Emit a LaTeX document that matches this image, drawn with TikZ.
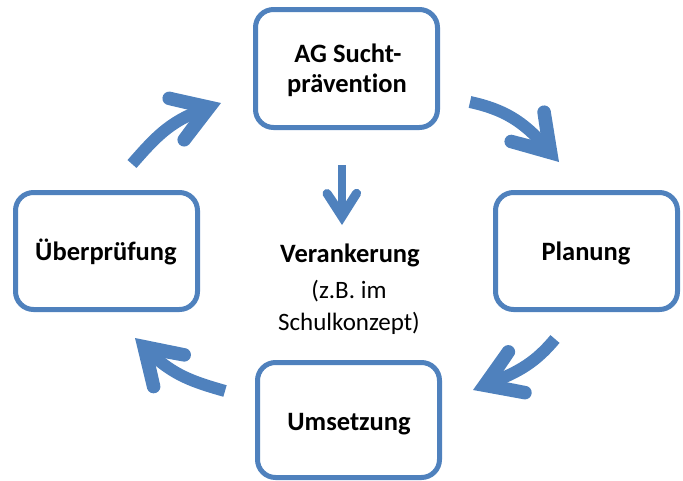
\documentclass[tikz,border=0pt]{standalone}
\usepackage{fontspec}
\setmainfont{Carlito}[Ligatures=NoCommon]
\definecolor{arrowblue}{HTML}{4F81BD}
\tikzset{
  x=1pt,y=1pt,
  cyclebox/.style={draw=arrowblue, line width=5pt, rounded corners=18pt, fill=white,
    minimum width=182pt, minimum height=117pt, inner sep=0pt},
  boldlabel/.style={anchor=base, inner sep=0pt, font=\fontsize{26.5}{31}\selectfont\bfseries},
  plainlabel/.style={anchor=base, inner sep=0pt, font=\fontsize{25}{30}\selectfont},
  shaft/.style={draw=arrowblue, line width=12pt, line cap=butt},
  ahead/.pic={
    \fill[arrowblue] (0,0) -- (-44.35,27.89) arc[start angle=65,end angle=245,radius=6.8]
      -- (-26,0) -- (-49.85,-16.11) arc[start angle=115,end angle=295,radius=6.8] -- cycle;
  }
}
\begin{document}
\begin{tikzpicture}
\useasboundingbox (0,-480) rectangle (683,0);
% boxes
\node[cyclebox, minimum height=118pt] (topbox) at (346.5,-68.5) {};
\node[cyclebox] (leftbox) at (106.5,-251) {};
\node[cyclebox] (rightbox) at (586.5,-251) {};
\node[cyclebox, minimum height=115pt] (bottombox) at (348.5,-420) {};
% labels
\node[boldlabel] (top1) at (348,-62) {AG Sucht-};
\node[boldlabel] (top2) at (347,-92) {prävention};
\node[boldlabel] (leftlabel) at (106,-260) {Überprüfung};
\node[boldlabel] (rightlabel) at (586,-260) {Planung};
\node[boldlabel] (bottomlabel) at (349,-430) {Umsetzung};
\node[boldlabel] (mid1) at (350,-262) {Verankerung};
\node[plainlabel] (mid2) at (349,-298) {(z.B. im};
\node[plainlabel] (mid3) at (349,-330) {Schulkonzept)};
% arrow coordinates
\coordinate (tls) at (132,-164);
\coordinate (tle) at (202,-110);
\coordinate (tlt) at (221,-103);
\coordinate (trs) at (470,-102);
\coordinate (tre) at (545.8,-147);
\coordinate (trt) at (559,-162);
\coordinate (brs) at (555,-339);
\coordinate (bre) at (491.6,-382.6);
\coordinate (brt) at (473,-390);
\coordinate (bls) at (225,-391);
\coordinate (ble) at (149.3,-352);
\coordinate (blt) at (135,-338);
\coordinate (ms) at (342,-165);
\coordinate (me) at (342,-212);
\coordinate (mt) at (342,-225);
% curved arrows
\draw[shaft] (tls) to[out=48.7,in=199.6] (tle);
\pic[rotate=19.6] at (tlt) {ahead};
\draw[shaft] (trs) to[out=-12.3,in=131.4] (tre);
\pic[rotate=-48.6] at (trt) {ahead};
\draw[shaft] (brs) to[out=230.2,in=21.8] (bre);
\pic[rotate=201.8] at (brt) {ahead};
\draw[shaft] (bls) to[out=164,in=315.7] (ble);
\pic[rotate=135.7] at (blt) {ahead};
% centre arrow
\draw[shaft, line width=8pt] (ms) -- (me);
\pic[rotate=-90, scale=0.67] at (mt) {ahead};
\end{tikzpicture}
\end{document}
